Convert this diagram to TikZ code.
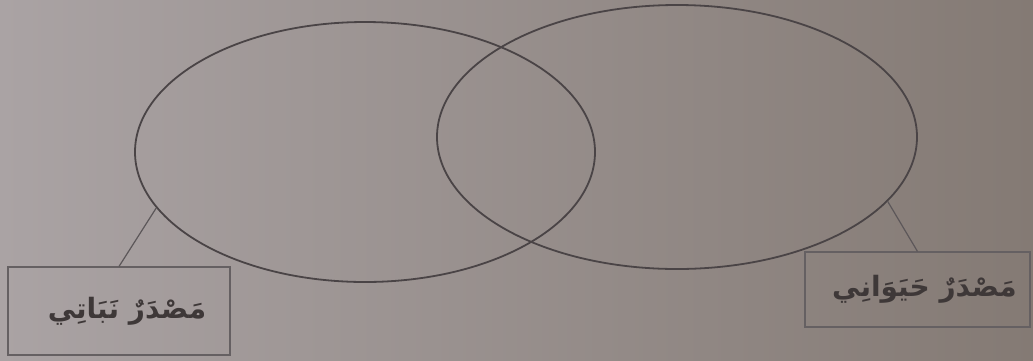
\documentclass[tikz,border=0pt]{standalone}
\usepackage{fontspec}
\usetikzlibrary{shapes.geometric}
\newfontfamily\arabicfont[Script=Arabic]{DejaVu Sans}
\TeXXeTstate=1
\definecolor{bgL}{HTML}{AAA3A4}
\definecolor{bgR}{HTML}{847A74}
\definecolor{ink}{HTML}{4A4446}
\definecolor{txt}{HTML}{3E3838}
\tikzset{
  circ/.style={draw=ink, line width=1.8pt, ellipse, inner sep=0pt},
  lbl/.style={draw=ink!85, line width=1.1pt, rectangle, inner sep=0pt, font=\arabicfont\bfseries\fontsize{28}{32}\selectfont, text=txt},
  conn/.style={draw=ink!90, line width=1.2pt}
}
\begin{document}
\begin{tikzpicture}[x=1pt,y=-1pt]
\shade[left color=bgL, right color=bgR] (0,0) rectangle (1033,360);
\useasboundingbox (0,0) rectangle (1033,360);
\node[circ, minimum width=460pt, minimum height=260pt] (L) at (365,152) {};
\node[circ, minimum width=480pt, minimum height=264pt] (R) at (677,137) {};
\node[lbl, minimum width=222pt, minimum height=88pt, text depth=0pt] (lb) at (119,311) {\raisebox{6pt}{\hspace{16pt}\beginR مَصْدَرٌ نَبَاتِي\endR}};
\node[lbl, minimum width=225pt, minimum height=75pt] (rb) at (917.5,289.5) {\raisebox{4pt}{\hspace{14pt}\beginR مَصْدَرٌ حَيَوَانِي\endR}};
\draw[conn] (L.195.8) -- (lb.north);
\draw[conn] (R.343.4) -- (rb.north);
\end{tikzpicture}
\end{document}
